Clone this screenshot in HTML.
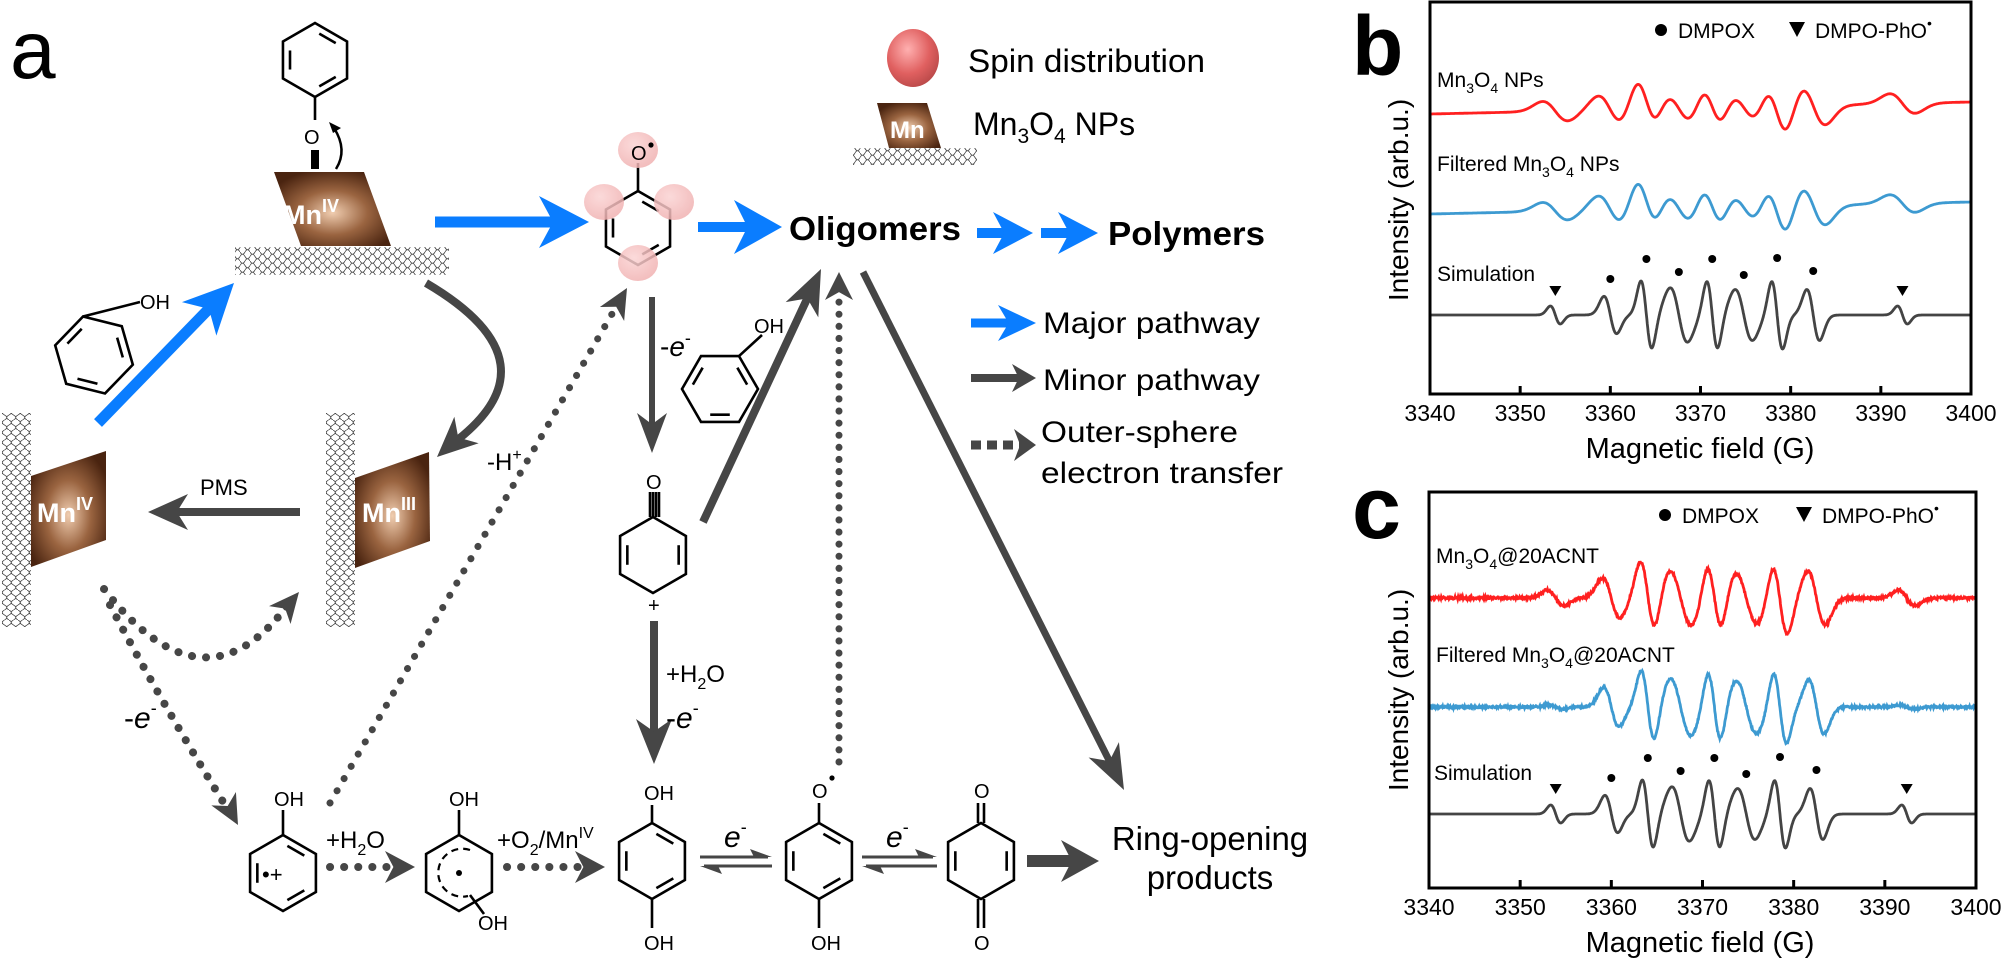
<!DOCTYPE html>
<html><head><meta charset="utf-8"><style>
html,body{margin:0;padding:0;background:#fff;}
svg{display:block;font-family:"Liberation Sans",Arial,sans-serif;}
</style></head><body>
<svg id="s" width="2003" height="966" viewBox="0 0 2003 966" xmlns="http://www.w3.org/2000/svg">
<defs>
<radialGradient id="mn" cx="0.5" cy="0.55" r="0.6">
<stop offset="0" stop-color="#f0cdb0"/><stop offset="0.5" stop-color="#9a6440"/><stop offset="1" stop-color="#4a2410"/>
</radialGradient>
<radialGradient id="sp" cx="0.4" cy="0.35" r="0.7">
<stop offset="0" stop-color="#ffb0b0"/><stop offset="0.6" stop-color="#e06060"/><stop offset="1" stop-color="#b84848"/>
</radialGradient>
<radialGradient id="sp2" cx="0.4" cy="0.35" r="0.7">
<stop offset="0" stop-color="#fbd4d4"/><stop offset="1" stop-color="#f0b0b0"/>
</radialGradient>
<pattern id="cnth" width="10" height="9" patternUnits="userSpaceOnUse">
<path d="M0 4.5 Q2.5 0 5 4.5 Q7.5 9 10 4.5 M0 0 Q2.5 4.5 5 0 M5 9 Q7.5 4.5 10 9" fill="none" stroke="#444" stroke-width="0.8"/>
</pattern>
<pattern id="cntv" width="9" height="10" patternUnits="userSpaceOnUse">
<path d="M4.5 0 Q0 2.5 4.5 5 Q9 7.5 4.5 10 M0 0 Q4.5 2.5 0 5 M9 5 Q4.5 7.5 9 10" fill="none" stroke="#444" stroke-width="0.8"/>
</pattern>
</defs>
<rect width="2003" height="966" fill="#fff"/>
<g id="g"></g>

<!-- labels -->
<text x="10" y="78" font-size="82">a</text>
<text x="1352" y="75" font-size="84" font-weight="bold">b</text>
<text x="1352" y="538" font-size="88" font-weight="bold">c</text>

<!-- CNT strips -->
<rect x="235" y="247" width="214" height="28" fill="url(#cnth)"/>
<rect x="853" y="148" width="124" height="17" fill="url(#cnth)"/>
<rect x="2" y="413" width="29" height="214" fill="url(#cntv)"/>
<rect x="326" y="413" width="29" height="214" fill="url(#cntv)"/>

<!-- Mn parallelograms -->
<polygon points="274,172 364,172 391,246 301,246" fill="url(#mn)"/>
<text x="283" y="224" font-size="27" font-weight="bold" fill="#fff">Mn<tspan font-size="18" dy="-12">IV</tspan></text>
<polygon points="31,476 106,451 106,540 31,567" fill="url(#mn)"/>
<text x="37" y="522" font-size="27" font-weight="bold" fill="#fff">Mn<tspan font-size="18" dy="-12">IV</tspan></text>
<polygon points="355,478 429,452 430,541 355,568" fill="url(#mn)"/>
<text x="362" y="522" font-size="27" font-weight="bold" fill="#fff">Mn<tspan font-size="18" dy="-12">III</tspan></text>
<polygon points="877,103 927,103 941,148 889,148" fill="url(#mn)"/>
<text x="890" y="138" font-size="24" font-weight="bold" fill="#fff">Mn</text>

<!-- spin legend -->
<ellipse cx="913" cy="58" rx="26" ry="29" fill="url(#sp)"/>
<text x="968" y="72" font-size="32" textLength="237" lengthAdjust="spacingAndGlyphs">Spin distribution</text>
<text x="973" y="135" font-size="32">Mn<tspan font-size="21" dy="8">3</tspan><tspan dy="-8">O</tspan><tspan font-size="21" dy="8">4</tspan><tspan dy="-8"> NPs</tspan></text>

<!-- spin spheres -->
<g fill="url(#sp2)" opacity="0.85">
<ellipse cx="638" cy="150" rx="20" ry="18"/><ellipse cx="604" cy="202" rx="20" ry="18"/>
<ellipse cx="674" cy="202" rx="20" ry="18"/><ellipse cx="638" cy="263" rx="20" ry="18"/>
</g>

<!-- text panel a -->
<text x="789" y="240" font-size="33" font-weight="bold" textLength="172" lengthAdjust="spacingAndGlyphs">Oligomers</text>
<text x="1108" y="245" font-size="33" font-weight="bold" textLength="157" lengthAdjust="spacingAndGlyphs">Polymers</text>
<text x="1043" y="333" font-size="30" textLength="217" lengthAdjust="spacingAndGlyphs">Major pathway</text>
<text x="1043" y="390" font-size="30" textLength="217" lengthAdjust="spacingAndGlyphs">Minor pathway</text>
<text x="1041" y="442" font-size="30" textLength="197" lengthAdjust="spacingAndGlyphs">Outer-sphere</text>
<text x="1041" y="483" font-size="30" textLength="242" lengthAdjust="spacingAndGlyphs">electron transfer</text>
<text x="1210" y="850" font-size="33" text-anchor="middle">Ring-opening</text>
<text x="1210" y="889" font-size="33" text-anchor="middle">products</text>
<text x="200" y="495" font-size="22">PMS</text>
<text x="487" y="470" font-size="24">-H<tspan font-size="16" dy="-10">+</tspan></text>
<text x="124" y="728" font-size="30">-<tspan font-style="italic">e</tspan><tspan font-size="18" dy="-14">-</tspan></text>
<text x="660" y="356" font-size="28">-<tspan font-style="italic">e</tspan><tspan font-size="18" dy="-12">-</tspan></text>
<text x="666" y="682" font-size="24">+H<tspan font-size="16" dy="7">2</tspan><tspan dy="-7">O</tspan></text>
<text x="666" y="728" font-size="30">-<tspan font-style="italic">e</tspan><tspan font-size="18" dy="-14">-</tspan></text>
<text x="326" y="848" font-size="24">+H<tspan font-size="16" dy="7">2</tspan><tspan dy="-7">O</tspan></text>
<text x="497" y="848" font-size="24">+O<tspan font-size="16" dy="7">2</tspan><tspan dy="-7">/Mn</tspan><tspan font-size="16" dy="-10">IV</tspan></text>
<text x="724" y="847" font-size="30" font-style="italic">e<tspan font-size="18" dy="-14" font-style="normal">-</tspan></text>
<text x="886" y="847" font-size="30" font-style="italic">e<tspan font-size="18" dy="-14" font-style="normal">-</tspan></text>

<!-- chem small labels -->
<g font-size="20">
<text x="304" y="144">O</text>
<text x="140" y="309">OH</text>
<text x="631" y="160">O</text><circle cx="651" cy="145" r="2.6" fill="#000"/>
<text x="754" y="333">OH</text>
<text x="646" y="489">O</text>
<text x="648" y="612">+</text>
<text x="274" y="806">OH</text>
<text x="449" y="806">OH</text>
<text x="478" y="930">OH</text>
<text x="644" y="800">OH</text>
<text x="644" y="950">OH</text>
<text x="812" y="798">O</text><circle cx="832" cy="778" r="2.6" fill="#000"/>
<text x="811" y="950">OH</text>
<text x="974" y="798">O</text>
<text x="974" y="950">O</text>
</g>
<text x="262" y="882" font-size="22">•+</text>
<circle cx="459" cy="873" r="3" fill="#000"/>

<!-- EPR axes -->
<g fill="none" stroke="#000" stroke-width="3">
<rect x="1430" y="2" width="541" height="392"/>
<rect x="1429" y="492" width="547" height="396"/>
</g>
<g font-size="23" text-anchor="middle" id="ticks"></g>
<text x="1700" y="458" font-size="29" text-anchor="middle">Magnetic field (G)</text>
<text x="1700" y="952" font-size="29" text-anchor="middle">Magnetic field (G)</text>
<text transform="translate(1408,200) rotate(-90)" font-size="28" text-anchor="middle">Intensity (arb.u.)</text>
<text transform="translate(1408,690) rotate(-90)" font-size="28" text-anchor="middle">Intensity (arb.u.)</text>
<g font-size="21">
<circle cx="1661" cy="30" r="6"/><text x="1678" y="38">DMPOX</text>
<polygon points="1789,22 1805,22 1797,37"/><text x="1815" y="38">DMPO-PhO<tspan font-size="14" dy="-10">•</tspan></text>
<circle cx="1665" cy="515" r="6"/><text x="1682" y="523">DMPOX</text>
<polygon points="1796,507 1812,507 1804,522"/><text x="1822" y="523">DMPO-PhO<tspan font-size="14" dy="-10">•</tspan></text>
<text x="1437" y="87">Mn<tspan font-size="14" dy="6">3</tspan><tspan dy="-6">O</tspan><tspan font-size="14" dy="6">4</tspan><tspan dy="-6"> NPs</tspan></text>
<text x="1437" y="171">Filtered Mn<tspan font-size="14" dy="6">3</tspan><tspan dy="-6">O</tspan><tspan font-size="14" dy="6">4</tspan><tspan dy="-6"> NPs</tspan></text>
<text x="1437" y="281">Simulation</text>
<text x="1436" y="563">Mn<tspan font-size="14" dy="6">3</tspan><tspan dy="-6">O</tspan><tspan font-size="14" dy="6">4</tspan><tspan dy="-6">@20ACNT</tspan></text>
<text x="1436" y="662">Filtered Mn<tspan font-size="14" dy="6">3</tspan><tspan dy="-6">O</tspan><tspan font-size="14" dy="6">4</tspan><tspan dy="-6">@20ACNT</tspan></text>
<text x="1434" y="780">Simulation</text>
</g>
</svg>
<script>
var NS="http://www.w3.org/2000/svg",G=document.getElementById("g");
function el(t,a,p){var e=document.createElementNS(NS,t);for(var k in a)e.setAttribute(k,a[k]);(p||G).appendChild(e);return e;}
function ring(cx,cy,r,rot,dbl){var v=[];for(var k=0;k<6;k++){var a=(rot-90+60*k)*Math.PI/180;v.push([cx+r*Math.cos(a),cy+r*Math.sin(a)]);}
el("polygon",{points:v.map(function(p){return p.join(",")}).join(" "),fill:"none",stroke:"#000","stroke-width":2.6,"stroke-linejoin":"miter"});
(dbl||[]).forEach(function(i){var a=v[i],b=v[(i+1)%6];var f=0.78,s=0.17;
var p=[cx+(a[0]-cx)*f,cy+(a[1]-cy)*f],q=[cx+(b[0]-cx)*f,cy+(b[1]-cy)*f];
var dx=q[0]-p[0],dy=q[1]-p[1];
el("line",{x1:p[0]+dx*s,y1:p[1]+dy*s,x2:q[0]-dx*s,y2:q[1]-dy*s,stroke:"#000","stroke-width":2.6});});return v;}
function ln(x1,y1,x2,y2,w){el("line",{x1:x1,y1:y1,x2:x2,y2:y2,stroke:"#000","stroke-width":w||2.6});}
function head(x,y,ang,len,half,col){var c=Math.cos(ang),s=Math.sin(ang);var bx=x-c*len,by=y-s*len;var nx=-s,ny=c;
var mx=x-c*len*0.72,my=y-s*len*0.72;
el("polygon",{points:[x,y,bx+nx*half,by+ny*half,mx,my,bx-nx*half,by-ny*half].join(","),fill:col});}
function arrow(x1,y1,x2,y2,w,len,half,col,dash){var ang=Math.atan2(y2-y1,x2-x1);var ex=x2-Math.cos(ang)*len*0.7,ey=y2-Math.sin(ang)*len*0.7;
var a={x1:x1,y1:y1,x2:ex,y2:ey,stroke:col,"stroke-width":w};if(dash){a["stroke-dasharray"]=dash[0];a["stroke-linecap"]=dash[1];}
el("line",a);head(x2,y2,ang,len,half,col);}
var B="#0a7dff",D="#464646",DOT=["0.1 14","round"];
// blue arrows
arrow(98,423,234,283,11,50,24,B);
arrow(435,222,589,222,11,50,26,B);
arrow(698,227,782,227,10,48,27,B);
arrow(977,233,1033,233,10,40,21,B);
arrow(1041,233,1098,233,10,40,21,B);
arrow(971,323,1036,323,9,38,18,B);
// gray solid
el("path",{d:"M426 283 Q564 364 448 447",fill:"none",stroke:D,"stroke-width":8});
head(437,457,Math.atan2(92,-127)*0+Math.atan2(456-380,437-520),40,18,D);
arrow(300,512,148,512,8,40,18,D);
arrow(652,297,652,453,6,40,15,D);
arrow(703,522,821,269,8,45,18,D);
arrow(863,272,1124,790,7,45,17,D);
arrow(654,621,654,764,8,45,18,D);
arrow(1027,861,1099,861,12,38,21,D);
arrow(971,378,1036,378,8,24,14,D);
// dotted
arrow(330,803,627,288,7,30,14,D,DOT);
el("path",{d:"M104 589 Q205 719 290 602",fill:"none",stroke:D,"stroke-width":8,"stroke-dasharray":"0.1 14","stroke-linecap":"round"});
head(299,592,Math.atan2(-12,10),30,14,D);
el("path",{d:"M110 605 Q160 700 225 805",fill:"none",stroke:D,"stroke-width":8,"stroke-dasharray":"0.1 14","stroke-linecap":"round"});
head(238,825,Math.atan2(22,12),30,14,D);
arrow(330,867,415,867,8,30,16,D,DOT);
arrow(507,867,605,867,8,30,16,D,DOT);
arrow(839,762,839,272,7,28,14,D,["0.1 12","round"]);
arrow(971,445,1036,445,9,22,16,D,["10 6","butt"]);
// equilibrium harpoons
[[700,772],[862,937]].forEach(function(p){
el("line",{x1:p[0],y1:857,x2:p[1]-4,y2:857,stroke:D,"stroke-width":3});
el("polygon",{points:[p[1],857,p[1]-22,849,p[1]-18,857].join(","),fill:D});
el("line",{x1:p[0]+4,y1:866,x2:p[1],y2:866,stroke:D,"stroke-width":3});
el("polygon",{points:[p[0],866,p[0]+22,874,p[0]+18,866].join(","),fill:D});});
// rings
var v;
v=ring(315,60,37,0,[0,2,4]); ln(v[3][0],v[3][1],315,120);
el("rect",{x:311,y:150,width:8,height:19,fill:"#000"});
el("path",{d:"M336 169 Q348 150 334 128",fill:"none",stroke:"#000","stroke-width":2.5});
el("polygon",{points:"329,122 341,128 333,133",fill:"#000"});
v=ring(94,355,40,-16,[1,3,5]); ln(v[0][0],v[0][1],140,302);
v=ring(638,228,37,0,[0,2,4]); ln(v[0][0],v[0][1],638,163);
v=ring(720,389,38,30,[0,2,4]); ln(v[0][0],v[0][1],762,335);
v=ring(653,555,38,0,[1,4]); ln(653,517,653,492,2.6); ln(659,517,659,492,2.6);
el("line",{x1:650,y1:517,x2:650,y2:492,stroke:"#000","stroke-width":2.6});el("line",{x1:656,y1:517,x2:656,y2:492,stroke:"#000","stroke-width":2.6});
v=ring(283,873,38,0,[0,2,4]); ln(v[0][0],v[0][1],283,810);
v=ring(459,873,38,0,[]); ln(v[0][0],v[0][1],459,810); ln(470,895,484,914);
el("path",{d:"M470 850 A24 24 0 1 0 468 896",fill:"none",stroke:"#000","stroke-width":2.2,"stroke-dasharray":"7 5"});
v=ring(652,861,38,0,[0,2,4]); ln(652,823,652,805); ln(652,899,652,928);
v=ring(819,861,38,0,[0,2,4]); ln(819,823,819,803); ln(819,899,819,928);
v=ring(981,861,38,0,[1,4]);
ln(978,823,978,803);ln(984,823,984,803);ln(978,899,978,928);ln(984,899,984,928);
// EPR
var T=document.getElementById("ticks");
function axis(x0,w,yb){for(var i=0;i<=6;i++){var x=x0+w*i/6;el("line",{x1:x,y1:yb,x2:x,y2:yb-8,stroke:"#000","stroke-width":3});
var t=el("text",{x:x,y:yb+27},T);t.textContent=3340+10*i;}}
axis(1430,541,394);axis(1429,547,888);
var P=[3360.0,3364.0,3367.6,3371.3,3374.8,3378.5,3382.5],PA=[0.55,1,0.8,1,0.75,1,0.75],PW=[0.7,0.6,0.95,0.6,0.95,0.6,0.7];
var seed=1;function rnd(){seed=(seed*16807)%2147483647;return seed/2147483647-0.5;}
function curve(x0,w,yb,A,wf,ph,phw,col,noise,slope){var d="";for(var i=0;i<=1200;i++){var B=3340+60*i/1200;var g=0;
for(var k=0;k<7;k++){var u=(B-P[k])/(PW[k]*wf);g+=A*PA[k]*(-u)*Math.exp(0.5-u*u/2);}
[3353.9,3392.4].forEach(function(c){var u=(B-c)/phw;g+=ph*(-u)*Math.exp(0.5-u*u/2);});
g+=noise*rnd()+slope*(B-3370)/30;
var x=x0+w*(B-3340)/60;d+=(i?"L":"M")+x.toFixed(1)+" "+(yb-g).toFixed(1);}
el("path",{d:d,fill:"none",stroke:col,"stroke-width":2.8});}
curve(1430,541,108,26,1.9,10,1.4,"#ff2020",0,6);
curve(1430,541,208,26,1.9,9,1.4,"#3d9ad1",0,6);
curve(1430,541,315,34,1,9,0.55,"#444",0,0);
curve(1429,547,598,36,1.35,8,0.9,"#ff2020",2.2,0);
curve(1429,547,707,36,1.2,2,0.8,"#3d9ad1",2,0);
curve(1429,547,814,34,1,9,0.55,"#444",0,0);
// markers
function marks(x0,w,ys,tri){var Y=[-26,-46,-33,-46,-30,-47,-34];for(var k=0;k<7;k++){el("circle",{cx:x0+w*(P[k]-3340)/60,cy:ys+Y[k]-10,r:4,fill:"#000"});}
[3353.9,3392.4].forEach(function(c){var x=x0+w*(c-3340)/60;el("polygon",{points:[x-6,tri,x+6,tri,x,tri+10].join(","),fill:"#000"});});}
marks(1430,541,315,286);marks(1429,547,814,784);
</script>
</body></html>
